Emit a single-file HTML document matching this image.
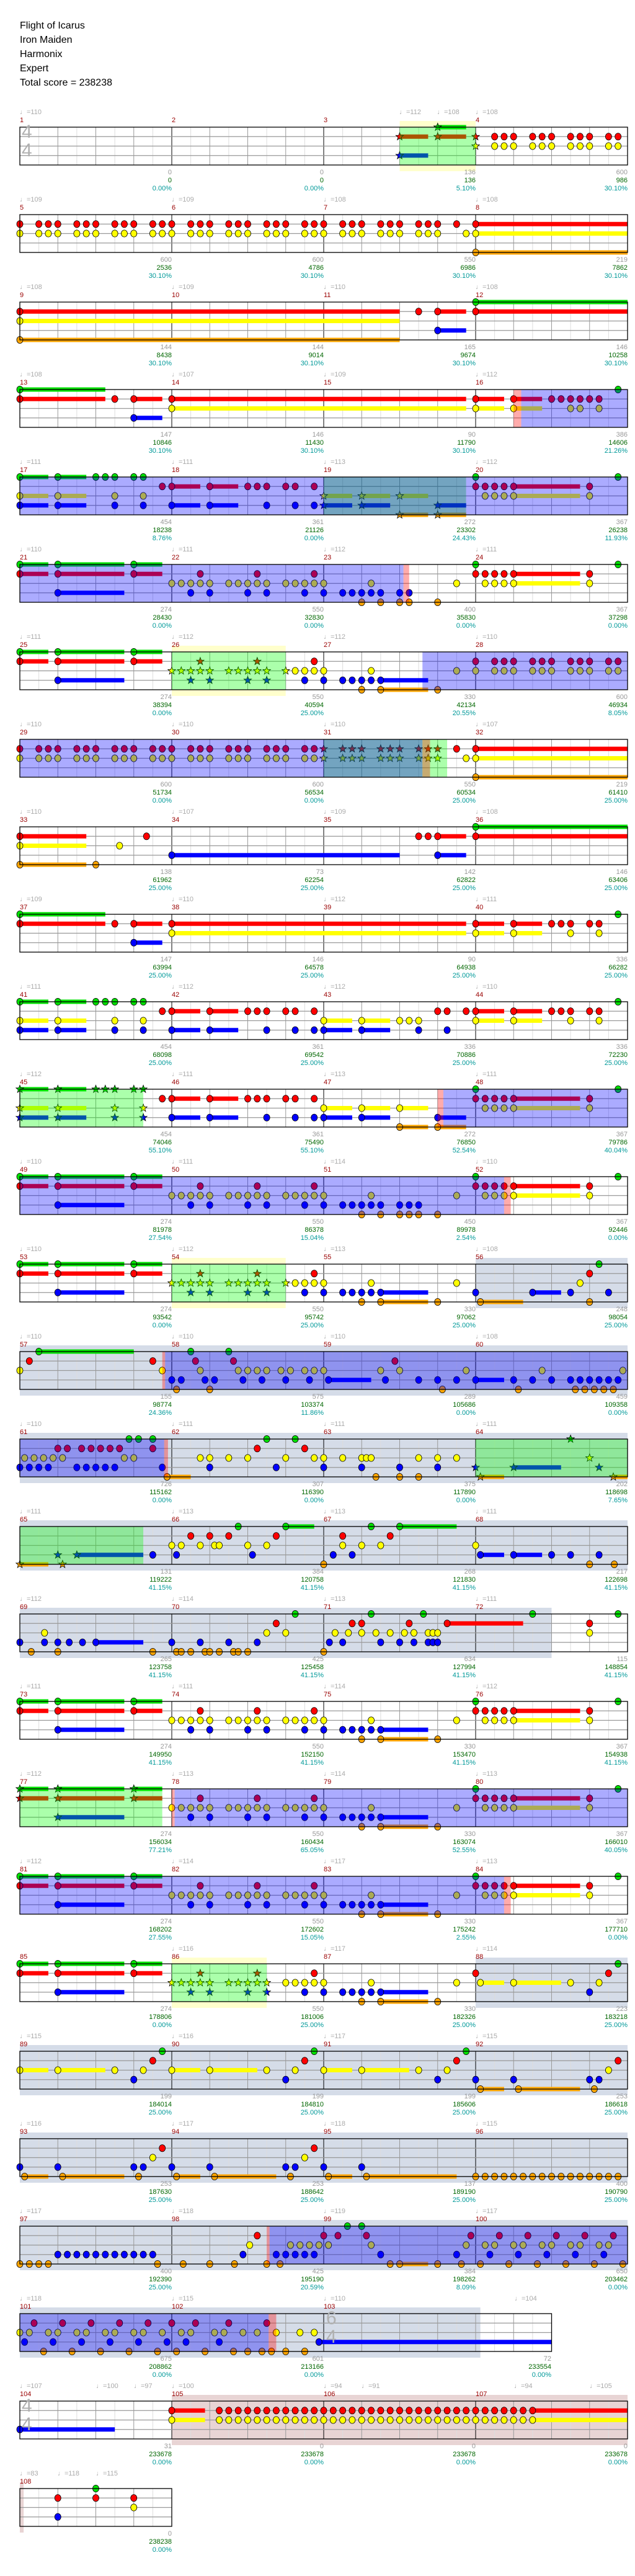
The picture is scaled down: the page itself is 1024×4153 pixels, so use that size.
<!DOCTYPE html>
<html><head><meta charset="utf-8">
<style>
html,body{margin:0;padding:0;background:#fff}
body{width:1024px;height:4153px;position:relative;overflow:hidden;font-family:"Liberation Sans Narrow","Liberation Sans",sans-serif}
#sv{position:absolute;left:0;top:0}
.t{position:absolute;left:32px;top:30px;font-size:16px;line-height:23px;color:#000;font-family:"Liberation Sans Narrow","Liberation Sans",sans-serif}
.r{position:absolute;left:0;width:1024px;height:0}
.r i{position:absolute;top:-30px;font-style:normal;color:#aaa;font-size:11px;line-height:12px;white-space:nowrap}
.r b{position:absolute;top:-17px;font-weight:normal;color:#990000;font-size:11px;line-height:12px}
.r u{position:absolute;top:67px;width:100px;text-align:right;text-decoration:none;color:#999;font-size:11px;line-height:13px}
.r em{font-style:normal;color:#006600}
.r s{text-decoration:none;color:#009999}
.ts{position:absolute;font-size:30px;line-height:30px;color:#b0b0b0;font-family:"Liberation Sans",sans-serif}
</style></head><body>
<svg id="sv" width="1024" height="4153" xmlns="http://www.w3.org/2000/svg"></svg>
<div class="t">Flight of Icarus<br>Iron Maiden<br>Harmonix<br>Expert<br>Total score = 238238</div>

<div class="ts" style="left:35px;top:198px">4</div><div class="ts" style="left:35px;top:228px">4</div>
<div class="ts" style="left:526px;top:3723px">6</div><div class="ts" style="left:526px;top:3753px">4</div>
<div class="ts" style="left:35px;top:3864px">4</div><div class="ts" style="left:35px;top:3894px">4</div>

<div class="r" style="top:205px"><i style="left:32px">♩=110</i><i style="left:644px">♩=112</i><i style="left:705px">♩=108</i><i style="left:767px">♩=108</i><b style="left:32px">1</b><b style="left:277px">2</b><b style="left:522px">3</b><b style="left:767px">4</b>
<u style="left:177px">0<br><em>0</em><br><s>0.00%</s></u><u style="left:422px">0<br><em>0</em><br><s>0.00%</s></u><u style="left:667px">136<br><em>136</em><br><s>5.10%</s></u><u style="left:912px">600<br><em>986</em><br><s>30.10%</s></u></div>

<div class="r" style="top:346px"><i style="left:32px">♩=109</i><i style="left:277px">♩=109</i><i style="left:522px">♩=108</i><i style="left:767px">♩=108</i><b style="left:32px">5</b><b style="left:277px">6</b><b style="left:522px">7</b><b style="left:767px">8</b>
<u style="left:177px">600<br><em>2536</em><br><s>30.10%</s></u><u style="left:422px">600<br><em>4786</em><br><s>30.10%</s></u><u style="left:667px">550<br><em>6986</em><br><s>30.10%</s></u><u style="left:912px">219<br><em>7862</em><br><s>30.10%</s></u></div>

<div class="r" style="top:487px"><i style="left:32px">♩=108</i><i style="left:277px">♩=109</i><i style="left:522px">♩=110</i><i style="left:767px">♩=108</i><b style="left:32px">9</b><b style="left:277px">10</b><b style="left:522px">11</b><b style="left:767px">12</b>
<u style="left:177px">144<br><em>8438</em><br><s>30.10%</s></u><u style="left:422px">144<br><em>9014</em><br><s>30.10%</s></u><u style="left:667px">165<br><em>9674</em><br><s>30.10%</s></u><u style="left:912px">146<br><em>10258</em><br><s>30.10%</s></u></div>

<div class="r" style="top:628px"><i style="left:32px">♩=108</i><i style="left:277px">♩=107</i><i style="left:522px">♩=109</i><i style="left:767px">♩=112</i><b style="left:32px">13</b><b style="left:277px">14</b><b style="left:522px">15</b><b style="left:767px">16</b>
<u style="left:177px">147<br><em>10846</em><br><s>30.10%</s></u><u style="left:422px">146<br><em>11430</em><br><s>30.10%</s></u><u style="left:667px">90<br><em>11790</em><br><s>30.10%</s></u><u style="left:912px">386<br><em>14606</em><br><s>21.26%</s></u></div>

<div class="r" style="top:769px"><i style="left:32px">♩=111</i><i style="left:277px">♩=111</i><i style="left:522px">♩=113</i><i style="left:767px">♩=112</i><b style="left:32px">17</b><b style="left:277px">18</b><b style="left:522px">19</b><b style="left:767px">20</b>
<u style="left:177px">454<br><em>18238</em><br><s>8.76%</s></u><u style="left:422px">361<br><em>21126</em><br><s>0.00%</s></u><u style="left:667px">272<br><em>23302</em><br><s>24.43%</s></u><u style="left:912px">367<br><em>26238</em><br><s>11.93%</s></u></div>

<div class="r" style="top:910px"><i style="left:32px">♩=110</i><i style="left:277px">♩=111</i><i style="left:522px">♩=112</i><i style="left:767px">♩=111</i><b style="left:32px">21</b><b style="left:277px">22</b><b style="left:522px">23</b><b style="left:767px">24</b>
<u style="left:177px">274<br><em>28430</em><br><s>0.00%</s></u><u style="left:422px">550<br><em>32830</em><br><s>0.00%</s></u><u style="left:667px">400<br><em>35830</em><br><s>0.00%</s></u><u style="left:912px">367<br><em>37298</em><br><s>0.00%</s></u></div>

<div class="r" style="top:1051px"><i style="left:32px">♩=111</i><i style="left:277px">♩=112</i><i style="left:522px">♩=112</i><i style="left:767px">♩=110</i><b style="left:32px">25</b><b style="left:277px">26</b><b style="left:522px">27</b><b style="left:767px">28</b>
<u style="left:177px">274<br><em>38394</em><br><s>0.00%</s></u><u style="left:422px">550<br><em>40594</em><br><s>25.00%</s></u><u style="left:667px">330<br><em>42134</em><br><s>20.55%</s></u><u style="left:912px">600<br><em>46934</em><br><s>8.05%</s></u></div>

<div class="r" style="top:1192px"><i style="left:32px">♩=110</i><i style="left:277px">♩=110</i><i style="left:522px">♩=110</i><i style="left:767px">♩=107</i><b style="left:32px">29</b><b style="left:277px">30</b><b style="left:522px">31</b><b style="left:767px">32</b>
<u style="left:177px">600<br><em>51734</em><br><s>0.00%</s></u><u style="left:422px">600<br><em>56534</em><br><s>0.00%</s></u><u style="left:667px">550<br><em>60534</em><br><s>25.00%</s></u><u style="left:912px">219<br><em>61410</em><br><s>25.00%</s></u></div>

<div class="r" style="top:1333px"><i style="left:32px">♩=110</i><i style="left:277px">♩=107</i><i style="left:522px">♩=109</i><i style="left:767px">♩=108</i><b style="left:32px">33</b><b style="left:277px">34</b><b style="left:522px">35</b><b style="left:767px">36</b>
<u style="left:177px">138<br><em>61962</em><br><s>25.00%</s></u><u style="left:422px">73<br><em>62254</em><br><s>25.00%</s></u><u style="left:667px">142<br><em>62822</em><br><s>25.00%</s></u><u style="left:912px">146<br><em>63406</em><br><s>25.00%</s></u></div>

<div class="r" style="top:1474px"><i style="left:32px">♩=109</i><i style="left:277px">♩=110</i><i style="left:522px">♩=112</i><i style="left:767px">♩=111</i><b style="left:32px">37</b><b style="left:277px">38</b><b style="left:522px">39</b><b style="left:767px">40</b>
<u style="left:177px">147<br><em>63994</em><br><s>25.00%</s></u><u style="left:422px">146<br><em>64578</em><br><s>25.00%</s></u><u style="left:667px">90<br><em>64938</em><br><s>25.00%</s></u><u style="left:912px">336<br><em>66282</em><br><s>25.00%</s></u></div>

<div class="r" style="top:1615px"><i style="left:32px">♩=111</i><i style="left:277px">♩=112</i><i style="left:522px">♩=112</i><i style="left:767px">♩=110</i><b style="left:32px">41</b><b style="left:277px">42</b><b style="left:522px">43</b><b style="left:767px">44</b>
<u style="left:177px">454<br><em>68098</em><br><s>25.00%</s></u><u style="left:422px">361<br><em>69542</em><br><s>25.00%</s></u><u style="left:667px">336<br><em>70886</em><br><s>25.00%</s></u><u style="left:912px">336<br><em>72230</em><br><s>25.00%</s></u></div>

<div class="r" style="top:1756px"><i style="left:32px">♩=112</i><i style="left:277px">♩=111</i><i style="left:522px">♩=113</i><i style="left:767px">♩=111</i><b style="left:32px">45</b><b style="left:277px">46</b><b style="left:522px">47</b><b style="left:767px">48</b>
<u style="left:177px">454<br><em>74046</em><br><s>55.10%</s></u><u style="left:422px">361<br><em>75490</em><br><s>55.10%</s></u><u style="left:667px">272<br><em>76850</em><br><s>52.54%</s></u><u style="left:912px">367<br><em>79786</em><br><s>40.04%</s></u></div>

<div class="r" style="top:1897px"><i style="left:32px">♩=110</i><i style="left:277px">♩=111</i><i style="left:522px">♩=114</i><i style="left:767px">♩=110</i><b style="left:32px">49</b><b style="left:277px">50</b><b style="left:522px">51</b><b style="left:767px">52</b>
<u style="left:177px">274<br><em>81978</em><br><s>27.54%</s></u><u style="left:422px">550<br><em>86378</em><br><s>15.04%</s></u><u style="left:667px">450<br><em>89978</em><br><s>2.54%</s></u><u style="left:912px">367<br><em>92446</em><br><s>0.00%</s></u></div>

<div class="r" style="top:2038px"><i style="left:32px">♩=110</i><i style="left:277px">♩=112</i><i style="left:522px">♩=113</i><i style="left:767px">♩=108</i><b style="left:32px">53</b><b style="left:277px">54</b><b style="left:522px">55</b><b style="left:767px">56</b>
<u style="left:177px">274<br><em>93542</em><br><s>0.00%</s></u><u style="left:422px">550<br><em>95742</em><br><s>25.00%</s></u><u style="left:667px">330<br><em>97062</em><br><s>25.00%</s></u><u style="left:912px">248<br><em>98054</em><br><s>25.00%</s></u></div>

<div class="r" style="top:2179px"><i style="left:32px">♩=110</i><i style="left:277px">♩=110</i><i style="left:522px">♩=110</i><i style="left:767px">♩=108</i><b style="left:32px">57</b><b style="left:277px">58</b><b style="left:522px">59</b><b style="left:767px">60</b>
<u style="left:177px">155<br><em>98774</em><br><s>24.36%</s></u><u style="left:422px">575<br><em>103374</em><br><s>11.86%</s></u><u style="left:667px">289<br><em>105686</em><br><s>0.00%</s></u><u style="left:912px">459<br><em>109358</em><br><s>0.00%</s></u></div>

<div class="r" style="top:2320px"><i style="left:32px">♩=110</i><i style="left:277px">♩=111</i><i style="left:522px">♩=111</i><i style="left:767px">♩=111</i><b style="left:32px">61</b><b style="left:277px">62</b><b style="left:522px">63</b><b style="left:767px">64</b>
<u style="left:177px">726<br><em>115162</em><br><s>0.00%</s></u><u style="left:422px">307<br><em>116390</em><br><s>0.00%</s></u><u style="left:667px">375<br><em>117890</em><br><s>0.00%</s></u><u style="left:912px">202<br><em>118698</em><br><s>7.65%</s></u></div>

<div class="r" style="top:2461px"><i style="left:32px">♩=111</i><i style="left:277px">♩=113</i><i style="left:522px">♩=113</i><i style="left:767px">♩=111</i><b style="left:32px">65</b><b style="left:277px">66</b><b style="left:522px">67</b><b style="left:767px">68</b>
<u style="left:177px">131<br><em>119222</em><br><s>41.15%</s></u><u style="left:422px">384<br><em>120758</em><br><s>41.15%</s></u><u style="left:667px">268<br><em>121830</em><br><s>41.15%</s></u><u style="left:912px">217<br><em>122698</em><br><s>41.15%</s></u></div>

<div class="r" style="top:2602px"><i style="left:32px">♩=112</i><i style="left:277px">♩=114</i><i style="left:522px">♩=113</i><i style="left:767px">♩=111</i><b style="left:32px">69</b><b style="left:277px">70</b><b style="left:522px">71</b><b style="left:767px">72</b>
<u style="left:177px">265<br><em>123758</em><br><s>41.15%</s></u><u style="left:422px">425<br><em>125458</em><br><s>41.15%</s></u><u style="left:667px">634<br><em>127994</em><br><s>41.15%</s></u><u style="left:912px">115<br><em>148854</em><br><s>41.15%</s></u></div>

<div class="r" style="top:2743px"><i style="left:32px">♩=111</i><i style="left:277px">♩=111</i><i style="left:522px">♩=114</i><i style="left:767px">♩=112</i><b style="left:32px">73</b><b style="left:277px">74</b><b style="left:522px">75</b><b style="left:767px">76</b>
<u style="left:177px">274<br><em>149950</em><br><s>41.15%</s></u><u style="left:422px">550<br><em>152150</em><br><s>41.15%</s></u><u style="left:667px">330<br><em>153470</em><br><s>41.15%</s></u><u style="left:912px">367<br><em>154938</em><br><s>41.15%</s></u></div>

<div class="r" style="top:2884px"><i style="left:32px">♩=112</i><i style="left:277px">♩=113</i><i style="left:522px">♩=114</i><i style="left:767px">♩=113</i><b style="left:32px">77</b><b style="left:277px">78</b><b style="left:522px">79</b><b style="left:767px">80</b>
<u style="left:177px">274<br><em>156034</em><br><s>77.21%</s></u><u style="left:422px">550<br><em>160434</em><br><s>65.05%</s></u><u style="left:667px">330<br><em>163074</em><br><s>52.55%</s></u><u style="left:912px">367<br><em>166010</em><br><s>40.05%</s></u></div>

<div class="r" style="top:3025px"><i style="left:32px">♩=112</i><i style="left:277px">♩=114</i><i style="left:522px">♩=117</i><i style="left:767px">♩=113</i><b style="left:32px">81</b><b style="left:277px">82</b><b style="left:522px">83</b><b style="left:767px">84</b>
<u style="left:177px">274<br><em>168202</em><br><s>27.55%</s></u><u style="left:422px">550<br><em>172602</em><br><s>15.05%</s></u><u style="left:667px">330<br><em>175242</em><br><s>2.55%</s></u><u style="left:912px">367<br><em>177710</em><br><s>0.00%</s></u></div>

<div class="r" style="top:3166px"><i style="left:277px">♩=116</i><i style="left:522px">♩=117</i><i style="left:767px">♩=114</i><b style="left:32px">85</b><b style="left:277px">86</b><b style="left:522px">87</b><b style="left:767px">88</b>
<u style="left:177px">274<br><em>178806</em><br><s>0.00%</s></u><u style="left:422px">550<br><em>181006</em><br><s>25.00%</s></u><u style="left:667px">330<br><em>182326</em><br><s>25.00%</s></u><u style="left:912px">223<br><em>183218</em><br><s>25.00%</s></u></div>

<div class="r" style="top:3307px"><i style="left:32px">♩=115</i><i style="left:277px">♩=116</i><i style="left:522px">♩=117</i><i style="left:767px">♩=115</i><b style="left:32px">89</b><b style="left:277px">90</b><b style="left:522px">91</b><b style="left:767px">92</b>
<u style="left:177px">199<br><em>184014</em><br><s>25.00%</s></u><u style="left:422px">199<br><em>184810</em><br><s>25.00%</s></u><u style="left:667px">199<br><em>185606</em><br><s>25.00%</s></u><u style="left:912px">253<br><em>186618</em><br><s>25.00%</s></u></div>

<div class="r" style="top:3448px"><i style="left:32px">♩=116</i><i style="left:277px">♩=117</i><i style="left:522px">♩=118</i><i style="left:767px">♩=115</i><b style="left:32px">93</b><b style="left:277px">94</b><b style="left:522px">95</b><b style="left:767px">96</b>
<u style="left:177px">253<br><em>187630</em><br><s>25.00%</s></u><u style="left:422px">253<br><em>188642</em><br><s>25.00%</s></u><u style="left:667px">137<br><em>189190</em><br><s>25.00%</s></u><u style="left:912px">400<br><em>190790</em><br><s>25.00%</s></u></div>

<div class="r" style="top:3589px"><i style="left:32px">♩=117</i><i style="left:277px">♩=118</i><i style="left:522px">♩=119</i><i style="left:767px">♩=117</i><b style="left:32px">97</b><b style="left:277px">98</b><b style="left:522px">99</b><b style="left:767px">100</b>
<u style="left:177px">400<br><em>192390</em><br><s>25.00%</s></u><u style="left:422px">425<br><em>195190</em><br><s>20.59%</s></u><u style="left:667px">384<br><em>198262</em><br><s>8.09%</s></u><u style="left:912px">650<br><em>203462</em><br><s>0.00%</s></u></div>

<div class="r" style="top:3730px"><i style="left:32px">♩=118</i><i style="left:277px">♩=115</i><i style="left:522px">♩=110</i><i style="left:830px">♩=104</i><b style="left:32px">101</b><b style="left:277px">102</b><b style="left:522px">103</b>
<u style="left:177px">675<br><em>208862</em><br><s>0.00%</s></u><u style="left:422px">601<br><em>213166</em><br><s>0.00%</s></u><u style="left:789px">72<br><em>233554</em><br><s>0.00%</s></u></div>

<div class="r" style="top:3871px"><i style="left:32px">♩=107</i><i style="left:155px">♩=100</i><i style="left:216px">♩=97</i><i style="left:277px">♩=100</i><i style="left:522px">♩=94</i><i style="left:583px">♩=91</i><i style="left:829px">♩=94</i><i style="left:951px">♩=105</i><b style="left:32px">104</b><b style="left:277px">105</b><b style="left:522px">106</b><b style="left:767px">107</b>
<u style="left:177px">31<br><em>233678</em><br><s>0.00%</s></u><u style="left:422px">0<br><em>233678</em><br><s>0.00%</s></u><u style="left:667px">0<br><em>233678</em><br><s>0.00%</s></u><u style="left:912px">0<br><em>233678</em><br><s>0.00%</s></u></div>

<div class="r" style="top:4012px"><i style="left:32px">♩=83</i><i style="left:93px">♩=118</i><i style="left:155px">♩=115</i><b style="left:32px">108</b>
<u style="left:177px">0<br><em>238238</em><br><s>0.00%</s></u></div>

<script>
var R=[
["yb:20-24 st:20-24","*22-23.5","*20-21.5 *22-23.5 *24 25 25.5 26 27 27.5 28 29 29.5 30 31 31.5","*24 25 25.5 26 27 27.5 28 29 29.5 30 31 31.5","*20-21.5","",32],
["","","0 T1:21 23 24-32","0 T1:21 23.5 24-32","","24-32",32],
["","24-32","0-20 21 22-23.5 24-32","0-20","22-23.5","0-20",32],
["rm:26-26.4 od:26.4-32","0-4.5 31.5","0-4.5 5 6-7.5 8-23.5 24-25.5 26-27.5 28 28.5 29 29.5 30 30.5","8-23.5 24-25.5 26-27.5 29 29.5 30.5","6-7.5","",32],
["od:0-16 tl:16-23.5 od:23.5-32","0-1.5 2-3.5 4 4.5 5 6 6.5 24 31.5","7.5 8-9.5 10-11.5 12 12.5 13 14 14.5 15.5 24 24.5 25 25.5 26-29.5 30","0-1.5 2-3.5 5 6.5 *16-17.5 *18-19.5 *20-21.5 24.5 25 25.5 26-29.5 30","0-1.5 2-3.5 5 6.5 8-9.5 10-11.5 13 14.5 15.5 *16-17.5 *18-19.5 *22-23.5","*20-21.5 *22-23.5",32],
["od:0-20.2 rm:20.2-20.5","0-1.5 2-5.5 6-7.5 24 31.5","0-1.5 2-5.5 6-7.5 9.5 12.5 15.5 24 24.5 25 25.5 26-29.5 30","F8 F11 F14 18.5 23 24.5 25 25.5 26-29.5 30","2-5.5 9 10 12 13 15 16 17 17.5 18 18.5 19 20 20.5","18 19 20 20.5 22",32],
["yb:8-14 st:8-14 od:21.2-32","0-1.5 2-5.5 6-7.5","0-1.5 2-5.5 6-7.5 *9.5 *12.5 15.5 24 T25:29 31 31.5","*F8 *F11 *14 14.5 15 15.5 16 18.5 23 24 T25:29 31 31.5","2-5.5 *9 *10 *12 *13 15 16 17 17.5 18 18.5 19-21.5","18 19-21.5 22",32],
["od:0-16 tl:16-21.2 st:21.2-22.5 rm:21.2-21.6","","0 T1:13 15 15.5 *16 *17 *17.5 *18 *19 *19.5 *20 *21 *21.5 *22 23 24-32","0 T1:13 15 15.5 *16 *17 *17.5 *18 *19 *19.5 *20 *21 *21.5 *22 23.5 24-32","","24-32",32],
["","24-32","0-3.5 6.67 21 21.5 22-23.5 24-32","0-3.5 5.25","8-20 22-23.5","0-3.5 4",32],
["","0-4.5 31.5","0-4.5 5 6-7.5 8-23.5 24-25.5 26-27.5 28 28.5 29 30 30.5","8-23.5 24-25.5 26-27.5 29 30.5","6-7.5","",32],
["","0-1.5 2-3.5 4 4.5 5 6 6.5 31.5","7.5 8-9.5 10-11.5 12 12.5 13 14 14.5 15.5 22 22.5 23.5 24-25.5 26-27.5 28 28.5 29 30 30.5","0-1.5 2-3.5 5 6.5 16-17.5 18-19.5 20 20.5 21 24-25.5 26-27.5 29 30.5","0-1.5 2-3.5 5 6.5 8-9.5 10-11.5 13 14.5 15.5 16-17.5 18-19.5 21 22.5","",32],
["st:0-6.5 rm:22-22.3 od:22.3-32","*0-1.5 *2-3.5 *4 *4.5 *5 *6 *6.5 24 31.5","7.5 8-9.5 10-11.5 12 12.5 13 14 14.5 15.5 24 24.5 25 25.5 26-29.5 30","*0-1.5 *2-3.5 *5 *6.5 16-17.5 18-19.5 20-21.5 24.5 25 25.5 26-29.5 30","*0-1.5 *2-3.5 *5 *6.5 8-9.5 10-11.5 13 14.5 15.5 16-17.5 18-19.5 22-23.5","20-21.5 22-23.5",32],
["od:0-25.5 rm:25.5-25.85","0-1.5 2-5.5 6-7.5 24 31.5","0-1.5 2-5.5 6-7.5 9.5 12.5 15.5 24 24.5 25 25.5 26-29.5 30","F8 F11 F14 18.5 23 24.5 25 25.5 26-29.5 30","2-5.5 9 10 12 13 15 16 17 17.5 18 18.5 19 20 20.5 21","18 19 20 20.5 21 22",32],
["yb:8-14 st:8-14 so:24-32","0-1.5 2-5.5 6-7.5 30.5","0-1.5 2-5.5 6-7.5 *9.5 *12.5 15.5 30","*F8 *F11 *14 14.5 15 15.5 16 18.5 23 29.5","2-5.5 *9 *10 *12 *13 15 16 17 17.5 18 18.5 19-21.5 24 27-28.5 29 31","18 19-21.5 22 24.25-26.5 30",32],
["so:0-32 rm:7.5-7.65 od:7.65-32","1-6 9 11","0.5 7 9.25 11.25 19.75","0 7.5 9.5 11.5 12 12.5 13 13.75 14.25 15 15.5 16 19 20 23.5 27.5 31.75","8 8.5 9.75 10.25 11.75 12.75 14 15.25 16.25-18.5 19.25 21 22 23 24-25.5 26 27 28 29 29.5 30 30.5 31 31.5","8.25 10 22.25 26.25 29.25 29.75 30.25 30.75 31.25",32],
["so:0-32 od:0-7.6 rm:7.6-7.8 st:24-32","5.75 6.25 7 13 14.5 *29","2 2.5 3.25 3.75 4.25 4.75 5.25 7 12.5 15","0.25 0.75 1.25 1.75 2.25 5.5 6 9.5 10 11 12 14 15.5 16 17 18 18.25 18.5 21 22 23 *30","0 0.5 1 1.5 3 3.5 4 4.5 5 7.5 10 13.5 16 18 20 22 *24 *26-28.5 *30.5","7.75-9 18.75 20 21 *24.25-25.5 *31.25-32",32],
["so:0-32 st:0-6.5","11.5 14-15.5 18.5 20-23","9 10 11 13.5 17 19.5","8 8.5 9.5 10.25 10.5 12 13 17 18 19 24","*2 *3-6.5 7 8.25 12.25 16.5 17.5 24.25-25.5 26-27.5 28 29 30.5","*0-1.5 *2.25 16 30 31.3",32],
["so:0-28","14.5 18.5 21.25 27 31.5","13.5 17.5 18 20.5 22.5-26.5 30","1.3 13 14 16.6 17.3 18 18.75 19.5 20.25 20.75 21.5 21.75 22 30","0 1.3 2 2.6 3.3 4-6.5 8 9.5 11 12.5 16.3 17 19 20 20.75 21.5 21.75 22","0.6 2 7 8.25 8.5 9 9.75 10 10.5 11.25 11.5 12 16",32],
["","0-1.5 2-5.5 6-7.5 24 31.5","0-1.5 2-5.5 6-7.5 9.5 12.5 15.5 24 24.5 25 25.5 26-29.5 30","F8 F11 F14 18.5 23 24.5 25 25.5 26-29.5 30","2-5.5 9 10 12 13 15 16 17 17.5 18 18.5 19-21.5","18 19-21.5 22",32],
["st:0-7.5 rm:8-8.15 od:8.15-32","*0-1.5 *2-5.5 *6-7.5 24 31.5","*0-1.5 *2-5.5 *6-7.5 9.5 12.5 15.5 24 24.5 25 25.5 26-29.5 30","F8 F11 F14 18.5 23 24.5 25 25.5 26-29.5 30","*2-5.5 9 10 12 13 15 16 17 17.5 18 18.5 19-21.5","18 19-21.5 22",32],
["od:0-25.5 rm:25.5-25.85","0-1.5 2-5.5 6-7.5 24 31.5","0-1.5 2-5.5 6-7.5 9.5 12.5 15.5 24 24.5 25 25.5 26-29.5 30","F8 F11 F14 18.5 23 24.5 25 25.5 26-29.5 30","2-5.5 9 10 12 13 15 16 17 17.5 18 18.5 19-21.5","18 19-21.5 22",32],
["yb:8-13 st:8-13 so:24-32","0-1.5 2-5.5 6-7.5 31.5","0-1.5 2-5.5 6-7.5 *9.5 *12.5 15.5 24 31","*F8 *F11 14 14.5 15 15.5 16 18.5 23 24.25-25.5 26-28.5 29 30.5","2-5.5 *9 *10 *12 *13 15 16 17 17.5 18 18.5 19-21.5 30","18 19-21.5 22",32],
["so:0-32","7.5 15.5 23.5","7 15 23 31.5","0-1.5 2-4.5 5 6.5 8-9.5 10-12.5 13 14.5 16-17.5 18-20.5 21 22.5 31","6 14 22 24 26 30 30.5","24.25-25.5 26.25-29.5 30.25",32],
["so:0-32","","7.5 15.5","7 15","0 2 6 6.5 8 10 14 14.5 16 18","0.25-1.5 2.25-5.5 6.25 8.25-9.5 10.25-13.5 14.25 16.25-17.5 18.25-23 R24:31.5",32],
["so:0-32 rm:13-13.15 od:13.15-32","17.25 18","12.5 16 16.75 18.25 23.75 25.25 26.75 28.25 29.75 31.25","12.1 14.25 14.75 15.25 15.75 16.25 18.5 23.5 24.5 25 26 26.5 27.5 28 29 29.5 30.5 31","2 2.5 3 3.5 4 4.5 5 5.5 6 6.5 7 11.75 13.5 14 14.5 15 15.5 19 23 24.75 26.25 27.75 29.25 30.75","0 0.5 1 1.5 7.25 8.6 10 11.3 13 13.7 19.5 20-21.5 22 23.25 24.25 25.75 27.25 28.75 30.25 31.75",32],
["so:0-24.25 od:0-13.1 rm:13.1-13.5","","0.75 2.25 3.75 5.25 6.75 8 9.25 11 13","0 0.5 1.5 2 3 3.5 4.5 5 6 6.5 7.5 8.5 9 10.25 10.75 11.75 12.5 13.5 14.75 15.5","0.25 1.75 3.25 4.75 6.25 7.75 8.75 10.5 15.75-28","1.25 2.75 4.25 5.75 7.25 8.25 9.75 11.25 12 12.75 13.25 14 15",28],
["pk:8-32","","8-9.75 R10.5:27 27-32","8-9.75 R10.5:27 27-32","0-5","",32],
["pk:0-0.2","4","2 4 6","6","2","",8]
];
var NS="http://www.w3.org/2000/svg",sv=document.getElementById("sv");
var C=["#00e000","#ff0000","#ffff00","#0000ff","#ffa500"],LY=[0,15.25,30.5,45.75,61];
function X(p){return 32+p*30.625}
function el(t,a){var e=document.createElementNS(NS,t);for(var k in a)e.setAttribute(k,a[k]);sv.appendChild(e);return e}
function rect(x1,y1,x2,y2,f){el("rect",{x:x1,y:y1,width:Math.max(0,x2-x1),height:y2-y1,fill:f})}
function parse(s){var out=[];s.split(" ").forEach(function(t){if(!t)return;var st=false;if(t[0]=="*"){st=true;t=t.slice(1)}
 var c=t[0],m;
 if(c=="T"){m=t.slice(1).split(":");for(var n=+m[0];n<=+m[1];n+=2){out.push([n,0,st],[n+.5,0,st],[n+1,0,st])}}
 else if(c=="F"){var a=+t.slice(1);for(var i=0;i<5;i++)out.push([a+i*.5,0,st])}
 else if(c=="R"){m=t.slice(1).split(":");for(var n2=+m[0];n2<=+m[1]+1e-6;n2+=.5)out.push([n2,0,st])}
 else{var i2=t.indexOf("-",1);if(i2>0)out.push([+t.slice(0,i2),+t.slice(i2+1),st]);else out.push([+t,0,st])}
 });return out}
function star(cx,cy,f){var pts=[];for(var i=0;i<10;i++){var rr=i%2?2.7:6.5,a=-Math.PI/2+i*Math.PI/5;pts.push((cx+rr*Math.cos(a)).toFixed(1)+","+(cy+rr*Math.sin(a)).toFixed(1))}
 el("polygon",{points:pts.join(" "),fill:f,stroke:"#000","stroke-width":0.8})}
R.forEach(function(row,ri){
 var S=205+141*ri,W=row[6],xe=X(W);
 var regs=row[0]?row[0].split(" ").map(function(t){var a=t.split(":"),b=a[1].split("-");return [a[0],+b[0],+b[1]]}):[];
 regs.forEach(function(g){var x1=X(g[1]),x2=X(g[2]);
  if(g[0]=="yb"){rect(x1,S-10,x2,S,"#ffffcc");rect(x1,S+61,x2,S+71,"#ffffcc")}
  if(g[0]=="pk")rect(x1,S-10,x2,S+71,"#e8d4d4");});
 regs.forEach(function(g){if(g[0]=="so")rect(X(g[1]),S-10,X(g[2]),S+71,"#d5dce8")});
 for(var p=1;p<W;p++){var col=p%8==0?"#000":(p%2==0?"#999":"#ddd");
  if(ri==25&&p>16)col=(p-16)%2==0?"#999":"#ddd";
  el("line",{x1:X(p),y1:S,x2:X(p),y2:S+61,stroke:col,"stroke-width":1})}
 for(var l=1;l<4;l++)el("line",{x1:32,y1:S+LY[l],x2:xe,y2:S+LY[l],stroke:"#999","stroke-width":1.2});
 var lanes=[];for(var k=0;k<5;k++)lanes.push(parse(row[k+1]));
 lanes.forEach(function(ns,k){ns.forEach(function(n){if(n[1]>n[0]){var f=C[k];rect(X(n[0]),S+LY[k]-3.5,X(n[1]),S+LY[k]+3.5,f)}})});
 lanes.forEach(function(ns,k){ns.forEach(function(n){var cx=X(n[0]),cy=S+LY[k];
  if(n[1]>n[0]&&n[0]==27&&ri==26)return;
  if(n[2])star(cx,cy,C[k]);else el("ellipse",{cx:cx,cy:cy,rx:5,ry:5.6,fill:C[k],stroke:"#000","stroke-width":0.8})})});
 regs.forEach(function(g){var x1=X(g[1]),x2=X(g[2]),f=null;
  if(g[0]=="od")f="rgba(0,0,255,0.33)";if(g[0]=="st")f="rgba(0,255,0,0.33)";if(g[0]=="tl")f="rgba(0,90,140,0.55)";if(g[0]=="rm")f="rgba(255,0,0,0.33)";
  if(f)rect(x1,S,x2,S+61,f)});
 el("rect",{x:32,y:S,width:xe-32,height:61,fill:"none",stroke:"#000","stroke-width":1.3});
});
</script>
</body></html>
